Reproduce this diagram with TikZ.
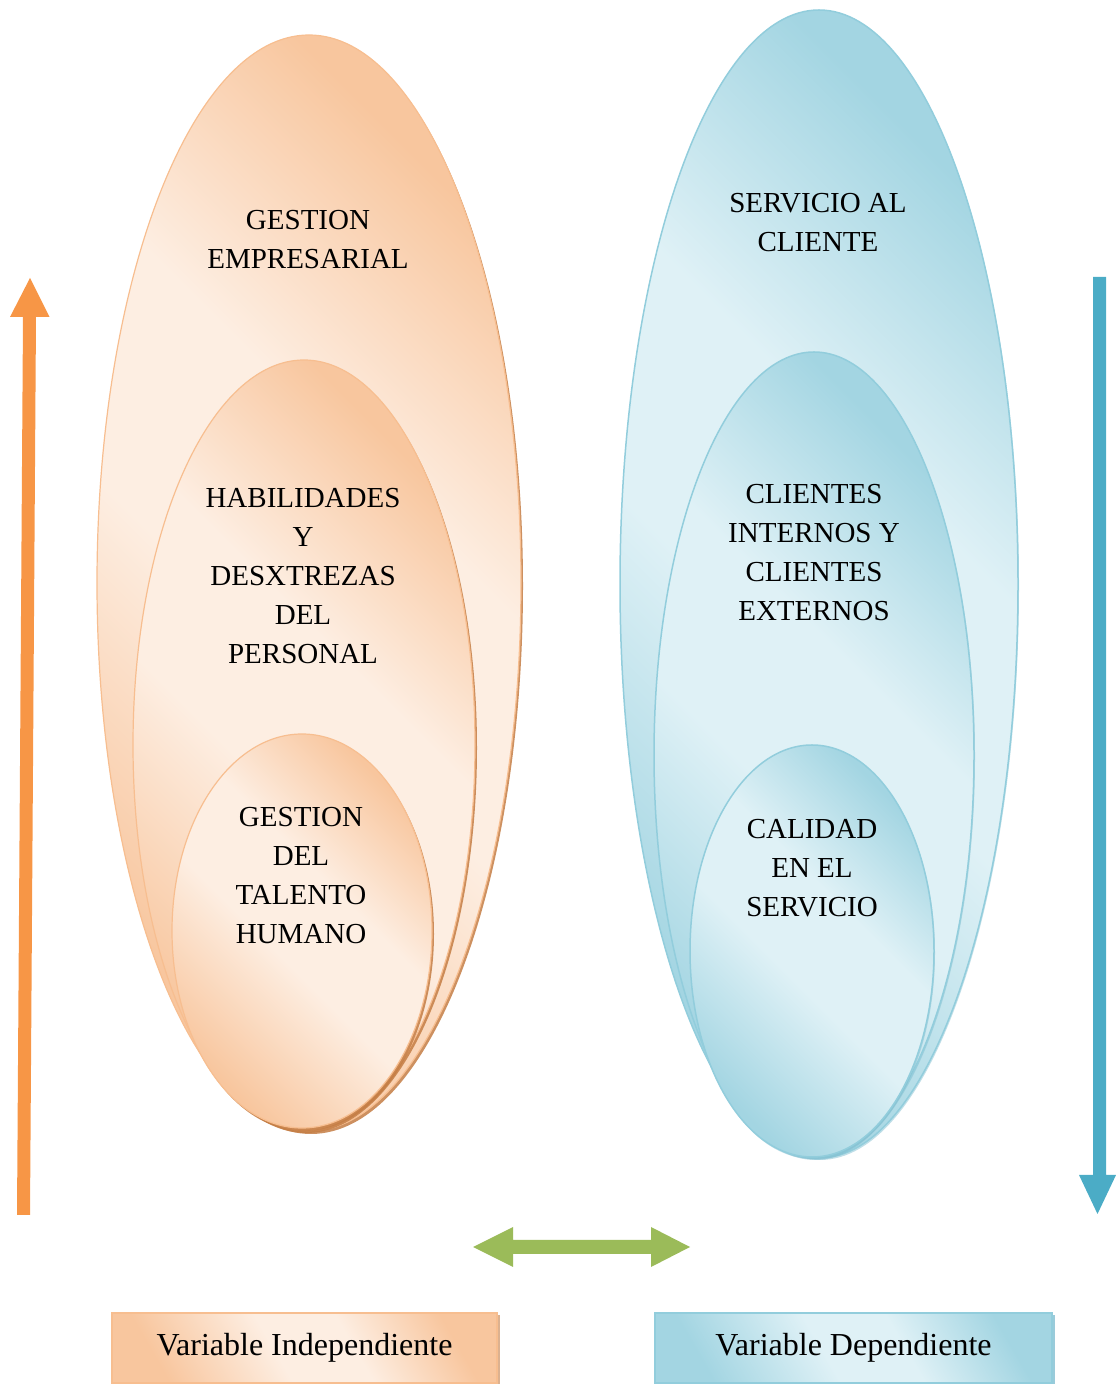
\documentclass[tikz,border=0pt]{standalone}
\usepackage{fontspec}
\setmainfont{Liberation Serif}

% palette
\definecolor{odark}{RGB}{248,198,158}
\definecolor{olight}{RGB}{253,238,226}
\definecolor{oline}{RGB}{247,190,144}
\definecolor{oshadow}{RGB}{196,125,68}
\definecolor{bdark}{RGB}{163,213,226}
\definecolor{blight}{RGB}{223,241,246}
\definecolor{bline}{RGB}{146,205,220}
\definecolor{bshadow}{RGB}{128,190,208}
\definecolor{arrorange}{RGB}{247,150,70}
\definecolor{arrblue}{RGB}{75,172,198}
\definecolor{arrgreen}{RGB}{155,187,89}

\pgfdeclareverticalshading{peach}{100bp}{color(0bp)=(odark); color(25bp)=(odark); color(45bp)=(olight); color(58bp)=(olight); color(75bp)=(odark); color(100bp)=(odark)}
\pgfdeclareverticalshading{sky}{100bp}{color(0bp)=(bdark); color(25bp)=(bdark); color(45bp)=(blight); color(58bp)=(blight); color(75bp)=(bdark); color(100bp)=(bdark)}

\begin{document}
\begin{tikzpicture}[x=1pt,y=1pt,
  orangeblob/.style={shade, shading=peach, shading angle=-45, draw=oline, line width=1.2pt},
  blueblob/.style={shade, shading=sky, shading angle=-45, draw=bline, line width=1.5pt},
  oshade/.style={fill=oshadow, opacity=0.85},
  bshade/.style={fill=bshadow, opacity=0.5},
  lbl/.style={align=center, inner sep=0pt, font=\fontsize{29}{39}\selectfont},
  legendbox/.style={minimum height=70pt, inner sep=0pt, line width=1.2pt,
    font=\fontsize{32}{38}\selectfont}
]
\useasboundingbox (0,0) rectangle (1116,1384);

% ---- independent variable: nested ellipses ----
\fill[oshade] (311,798) ellipse [x radius=212, y radius=548];
\path[orangeblob] (309,801) ellipse [x radius=212, y radius=548];
\fill[oshade] (306,636) ellipse [x radius=171, y radius=385];
\path[orangeblob] (304,639) ellipse [x radius=171, y radius=385];
\fill[oshade] (304,450) ellipse [x radius=130, y radius=197];
\path[orangeblob] (302,453) ellipse [x radius=130, y radius=197];

\node[lbl] (ge) at (308,1144.5) {GESTION\\EMPRESARIAL};
\node[lbl] (hab) at (303,808) {HABILIDADES\\Y\\DESXTREZAS\\DEL\\PERSONAL};
\node[lbl] (gth) at (301,508) {GESTION\\DEL\\TALENTO\\HUMANO};

% ---- dependent variable: nested ellipses ----
\fill[bshade] (820,798) ellipse [x radius=199, y radius=574];
\path[blueblob] (819,800) ellipse [x radius=199, y radius=574];
\fill[bshade] (815,627) ellipse [x radius=160, y radius=403];
\path[blueblob] (814,629) ellipse [x radius=160, y radius=403];
\fill[bshade] (813,431) ellipse [x radius=122, y radius=206];
\path[blueblob] (812,433) ellipse [x radius=122, y radius=206];

\node[lbl] (sac) at (818,1161) {SERVICIO AL\\CLIENTE};
\node[lbl] (cli) at (814,831) {CLIENTES\\INTERNOS Y\\CLIENTES\\EXTERNOS};
\node[lbl] (cal) at (812,515.5) {CALIDAD\\EN EL\\SERVICIO};

% ---- block arrows ----
\fill[arrorange] (30,1106) -- (49.5,1067) -- (36,1067) -- (30,169) -- (17,169)
  -- (23,1067) -- (10,1067) -- cycle;
\fill[arrblue] (1093,1107) -- (1106,1107) -- (1106,209) -- (1116,209) -- (1097.5,170)
  -- (1079,209) -- (1093,209) -- cycle;
\fill[arrgreen] (473,137) -- (513,157) -- (513,144) -- (651,144) -- (651,157)
  -- (690,137) -- (651,117) -- (651,130) -- (513,130) -- (513,117) -- cycle;

% ---- legend boxes ----
\fill[oshadow!60] (115,0) rectangle (499.5,69);
\node[legendbox, minimum width=385pt, shade, shading=peach, shading angle=-60,
  draw=oline] (vi) at (304.5,36) {Variable Independiente};
\fill[bshadow!80] (658,0) rectangle (1054.5,69);
\node[legendbox, minimum width=397pt, shade, shading=sky, shading angle=-60,
  draw=bline] (vd) at (853.5,36) {Variable Dependiente};
\end{tikzpicture}
\end{document}
